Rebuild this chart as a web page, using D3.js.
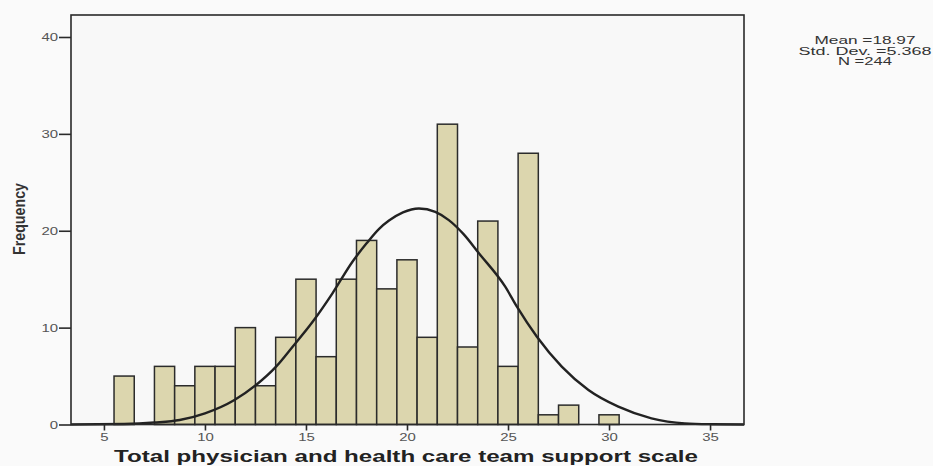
<!DOCTYPE html>
<html>
<head>
<meta charset="utf-8">
<script src="https://cdn.jsdelivr.net/npm/d3@7"></script>
<style>
    body { margin: 0; background: #fafafa; }
    svg { display: block; }
</style>
</head>
<body>
<div id="chart"></div>
<script>
const width = 933;
const height = 466;

// Histogram bins (centred on integer scores, width 1)
const scores = [6, 7, 8, 9, 10, 11, 12, 13, 14, 15, 16, 17, 18, 19, 20,
                21, 22, 23, 24, 25, 26, 27, 28, 29, 30];
const frequencies = [5, 0, 6, 4, 6, 6, 10, 4, 9, 15, 7, 15, 19, 14, 17,
                     9, 31, 8, 21, 6, 28, 1, 2, 0, 1];

// Fitted curve: [score, frequency]
const curvePoints = [
    [3.37, 0], [6, 0.05], [7.5, 0.2], [8.75, 0.46], [10, 1.15],
    [11.46, 2.53], [12.53, 4.08], [13.52, 5.97], [14.34, 8.03],
    [15.33, 10.6], [16.31, 13.54], [17.3, 16.8], [18.0, 18.7],
    [18.62, 20.2], [19.11, 21.05], [19.8, 21.9], [20.59, 22.3],
    [21.4, 21.95], [22.07, 21.1], [22.8, 19.65], [23.55, 17.7],
    [24.87, 14.2], [25.44, 12.16], [26.43, 9.06], [27.66, 5.97],
    [28.98, 3.56], [30.46, 1.84], [32.1, 0.64], [33.75, 0.12],
    [35.1, 0.03], [36.68, 0]
];

const xTicks = [5, 10, 15, 20, 25, 30, 35];
const yTicks = [0, 10, 20, 30, 40];
const statsLines = ["Mean =18.97", "Std. Dev. =5.368", "N =244"];
const statsWidths = [101, 133, 54];

const plot = {left: 71, right: 744, top: 15, bottom: 424.5};

const x = d3.scaleLinear()
    .domain([3.37, 36.68])
    .range([plot.left, plot.right]);

const y = d3.scaleLinear()
    .domain([0, 42.27])
    .range([plot.bottom, plot.top]);

const svg = d3.select("#chart")
    .append("svg")
        .attr("width", width)
        .attr("height", height)
        .style("font-family", "'Liberation Sans', Arial, sans-serif");

svg.append("rect")
    .attr("width", width)
    .attr("height", height)
    .attr("fill", "#fafafa");

// Plot area background
svg.append("rect")
    .attr("x", plot.left)
    .attr("y", plot.top)
    .attr("width", plot.right - plot.left)
    .attr("height", plot.bottom - plot.top)
    .attr("fill", "#f8f8f8");

// Bars
svg.append("g")
        .attr("fill", "#dcd6ae")
        .attr("stroke", "#2b2b2b")
        .attr("stroke-width", 1.5)
    .selectAll("rect")
    .data(scores.map((s, i) => ({score: s, freq: frequencies[i]})).filter(d => d.freq > 0))
    .join("rect")
        .attr("x", d => x(d.score - 0.5))
        .attr("y", d => y(d.freq))
        .attr("width", d => x(d.score + 0.5) - x(d.score - 0.5))
        .attr("height", d => y(0) - y(d.freq));

// Normal curve
const line = d3.line()
    .x(d => x(d[0]))
    .y(d => y(d[1]))
    .curve(d3.curveMonotoneX);

svg.append("path")
    .datum(curvePoints)
    .attr("fill", "none")
    .attr("stroke", "#222")
    .attr("stroke-width", 2.4)
    .attr("d", line);

// Frame
svg.append("rect")
    .attr("x", plot.left)
    .attr("y", plot.top)
    .attr("width", plot.right - plot.left)
    .attr("height", plot.bottom - plot.top)
    .attr("fill", "none")
    .attr("stroke", "#2a2a2a")
    .attr("stroke-width", 1.6);

// Axes
const yAxis = svg.append("g")
    .attr("transform", `translate(${plot.left},0)`)
    .call(d3.axisLeft(y).tickValues(yTicks).tickSize(12).tickPadding(1));

const xAxis = svg.append("g")
    .attr("transform", `translate(0,${plot.bottom})`)
    .call(d3.axisBottom(x).tickValues(xTicks).tickSize(6).tickPadding(2));

[xAxis, yAxis].forEach(ax => {
    ax.select(".domain").remove();
    ax.selectAll(".tick line").attr("stroke", "#2a2a2a").attr("stroke-width", 1.6);
    ax.selectAll(".tick text")
        .attr("fill", "#555")
        .attr("transform", "scale(1.3,1)")
        .style("font-size", "11.5px")
        .style("font-family", "'Liberation Sans', Arial, sans-serif");
});
// scale(1.3,1) moves the labels too, so put them back in place
yAxis.selectAll(".tick text").attr("x", -13 / 1.3);

// Axis titles
svg.append("text")
    .attr("transform", "translate(25,219) rotate(-90)")
    .attr("text-anchor", "middle")
    .attr("textLength", 72)
    .attr("lengthAdjust", "spacingAndGlyphs")
    .style("font-family", "'Liberation Sans Narrow', 'Liberation Sans', Arial, sans-serif")
    .style("font-weight", "bold")
    .style("font-size", "17px")
    .attr("fill", "#333")
    .text("Frequency");

svg.append("text")
    .attr("x", 406)
    .attr("y", 462)
    .attr("text-anchor", "middle")
    .attr("textLength", 584)
    .attr("lengthAdjust", "spacingAndGlyphs")
    .style("font-weight", "bold")
    .style("font-size", "17px")
    .attr("fill", "#222")
    .text("Total physician and health care team support scale");

// Summary statistics
svg.append("g")
    .selectAll("text")
    .data(statsLines)
    .join("text")
        .attr("x", 865)
        .attr("y", (d, i) => 44 + i * 10.5)
        .attr("text-anchor", "middle")
        .attr("textLength", (d, i) => statsWidths[i])
        .attr("lengthAdjust", "spacingAndGlyphs")
        .style("font-size", "11.5px")
        .attr("fill", "#333")
        .text(d => d);
</script>
</body>
</html>
